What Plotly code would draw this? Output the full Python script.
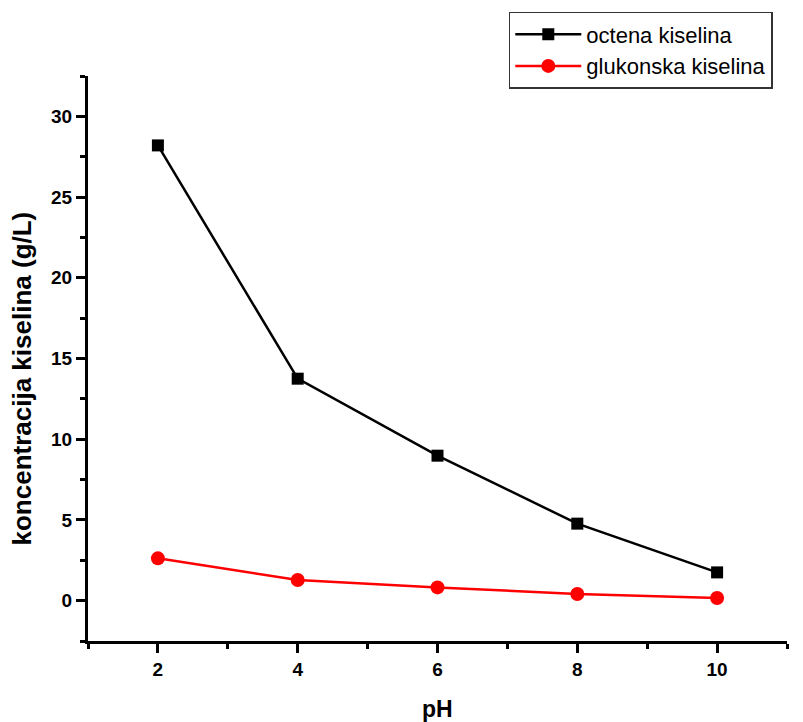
import plotly.graph_objects as go

ph = [2, 4, 6, 8, 10]
octena = [28.2, 13.75, 8.98, 4.77, 1.75]
glukonska = [2.62, 1.28, 0.82, 0.41, 0.16]
x_ticks = [2, 4, 6, 8, 10]
y_ticks = [0, 5, 10, 15, 20, 25, 30]

FONT = "Liberation Sans, Arial, sans-serif"

fig = go.Figure()
fig.add_trace(go.Scatter(
    x=ph, y=octena, name="octena kiselina", mode="lines+markers",
    line=dict(color="black", width=2.5),
    marker=dict(symbol="square", size=12, color="black"),
))
fig.add_trace(go.Scatter(
    x=ph, y=glukonska, name="glukonska kiselina", mode="lines+markers",
    line=dict(color="#ff0000", width=2.5),
    marker=dict(symbol="circle", size=14, color="#ff0000"),
))

axis_common = dict(
    showgrid=False, zeroline=False, showline=True, linecolor="black", linewidth=3,
    ticks="outside", ticklen=9, tickwidth=3, tickcolor="black",
    tickfont=dict(family=FONT, size=19, color="black", weight="bold"),
)

fig.update_xaxes(
    range=[1, 11], tickmode="array", tickvals=x_ticks, ticktext=[str(v) for v in x_ticks],
    minor=dict(tick0=1, dtick=1, ticks="outside", ticklen=5, tickwidth=3, tickcolor="black"),
    **axis_common,
)
fig.update_yaxes(
    range=[-2.5, 32.5], tickmode="array", tickvals=y_ticks, ticktext=[str(v) for v in y_ticks],
    minor=dict(tick0=-2.5, dtick=2.5, ticks="outside", ticklen=5, tickwidth=3, tickcolor="black"),
    **axis_common,
)

fig.add_annotation(
    text="pH", xref="paper", yref="paper", x=0.5, y=0, yshift=-68,
    xanchor="center", yanchor="middle", showarrow=False,
    font=dict(family=FONT, size=23, color="black", weight="bold"),
)
fig.add_annotation(
    text="koncentracija kiselina (g/L)", xref="paper", yref="paper", x=0, xshift=-66,
    y=0.4646, xanchor="center", yanchor="middle", textangle=-90, showarrow=False,
    font=dict(family=FONT, size=26, color="black", weight="bold"),
)

fig.update_layout(
    width=795, height=714,
    margin=dict(l=80, r=16, t=68, b=81, autoexpand=False),
    plot_bgcolor="white", paper_bgcolor="white",
    showlegend=True,
    legend=dict(
        x=0.602, y=0.9944, xanchor="left", yanchor="top", yref="container",
        bordercolor="#333333", borderwidth=1.5, bgcolor="white",
        font=dict(family=FONT, size=22, color="black"),
        tracegroupgap=0, itemsizing="trace", itemwidth=66,
    ),
)

fig.write_html("out.html")
